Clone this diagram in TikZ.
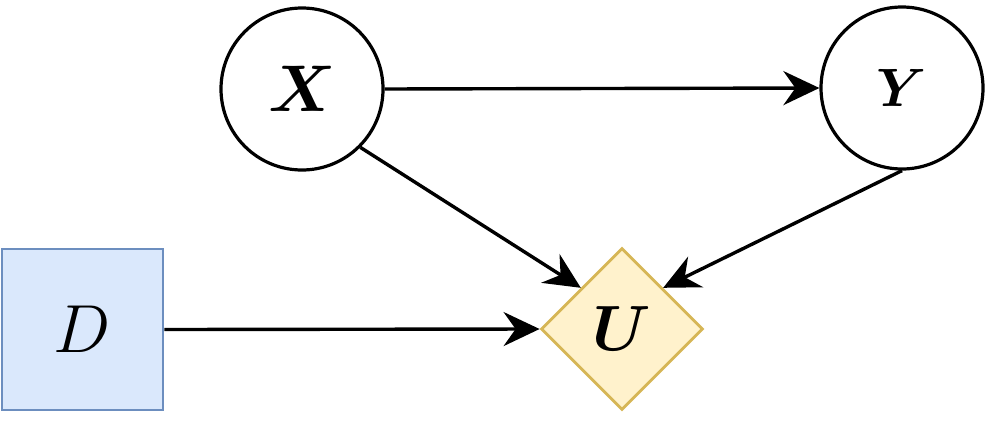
\documentclass[tikz,border=0pt]{standalone}
\usepackage{fix-cm}
\usepackage{xcolor}
\usepackage{tikz}
\usetikzlibrary{shapes.geometric, arrows.meta}

\definecolor{dfill}{HTML}{DAE8FC}
\definecolor{ddraw}{HTML}{6C8EBF}
\definecolor{ufill}{HTML}{FFF2CC}
\definecolor{udraw}{HTML}{D6B656}

\begin{document}
\begin{tikzpicture}[
  x=0.5pt, y=-0.5pt,
  cnode/.style={draw, circle, line width=1.6pt, minimum size=81pt,
                inner sep=0pt, font=\fontsize{33}{40}\selectfont\boldmath},
  dbox/.style={draw=ddraw, fill=dfill, line width=1.4pt,
               minimum width=80.5pt, minimum height=80.5pt, inner sep=0pt,
               font=\fontsize{34}{40}\selectfont},
  ubox/.style={draw=udraw, fill=ufill, diamond, aspect=1, line width=1.4pt,
               minimum width=81pt, minimum height=81pt, inner sep=0pt,
               font=\fontsize{32}{40}\selectfont\boldmath},
  arr/.style={-{Stealth[length=18pt, width=17pt, inset=6pt]}, line width=1.7pt},
]
\useasboundingbox (0,0) rectangle (988,428);

% --- chance, decision and utility nodes ---
\node[cnode] (X) at (302, 89) {$X$};
\node[cnode, font=\fontsize{27}{32}\selectfont\boldmath] (Y) at (902, 88) {$Y$};
\node[dbox]  (D) at (82.5, 329.5) {$D$};
\node[ubox]  (U) at (622, 329) {$U$};

% --- arrows ---
\draw[arr] (X.east) -- (Y.west);
\draw[arr] (X.-45) -- (U.north west);
\draw[arr] (Y.south) -- (U.north east);
\draw[arr] (D.east) -- (U.west);
\end{tikzpicture}
\end{document}
